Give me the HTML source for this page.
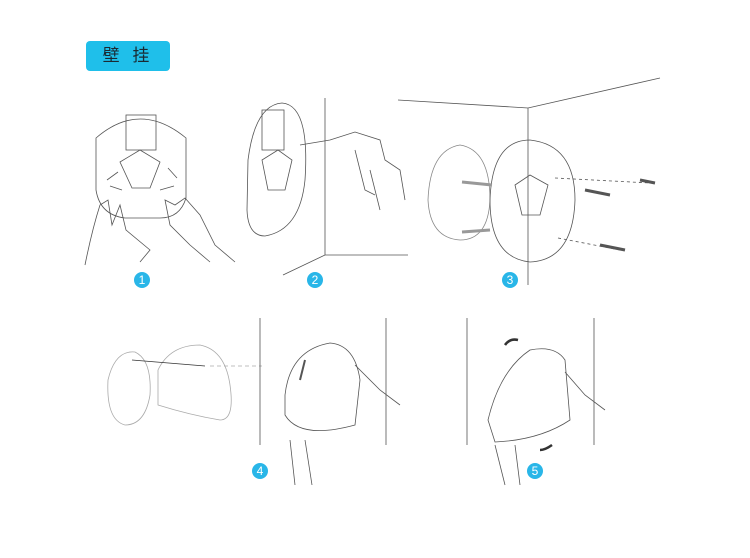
<!DOCTYPE html>
<html><head><meta charset="utf-8"><style>
html,body{margin:0;padding:0;background:#fff;width:750px;height:558px;overflow:hidden}
.h{position:absolute;left:86px;top:41px;width:84px;height:30px;background:#1fbfea;border-radius:4px;color:#1a2a33;font:17px "Liberation Sans","Noto Sans CJK SC",sans-serif;text-align:center;line-height:30px;letter-spacing:4px}
svg{position:absolute;left:0;top:0}
</style></head><body>
<div class="h">壁 挂</div>
<svg width="750" height="558" viewBox="0 0 750 558" fill="none" stroke="#555" stroke-width="0.8" font-family="Liberation Sans">
<!-- 1 -->
<path d="M96 138 Q140 100 186 138 L186 198 Q180 218 160 218 L125 218 Q100 215 96 190 Z"/>
<rect x="126" y="115" width="30" height="35"/>
<path d="M120 162 L140 150 L160 162 L150 188 L132 188 Z"/>
<path d="M107 180 L118 172 M110 186 L122 190 M177 178 L168 168 M174 186 L160 190"/>
<path d="M85 265 Q92 230 100 205 L108 200 L112 225 L120 205 L126 230 L150 250 L140 262 M210 262 L190 245 L170 225 L165 200 L175 205 L185 198 L200 215 L215 245 L235 262"/>
<!-- 2 -->
<path d="M248 160 Q255 105 282 103 Q310 105 305 180 Q300 230 265 236 Q248 236 247 210 Z"/>
<rect x="262" y="110" width="22" height="40"/>
<path d="M262 160 L278 150 L292 160 L285 190 L268 190 Z"/>
<path d="M325 98 L325 255 L283 275 M325 255 L408 255"/>
<path d="M300 145 L330 140 L355 132 L380 140 L385 160 L400 170 L405 200 M355 150 L365 190 L375 195 M370 170 L380 210"/>
<!-- 3 -->
<path d="M398 100 L528 108 L660 78 M528 108 L528 285"/>
<path d="M428 200 Q430 150 460 145 Q490 150 490 200 Q488 240 460 240 Q430 238 428 200 Z" stroke="#888"/>
<path d="M490 200 Q492 140 530 140 Q575 145 575 200 Q573 260 530 262 Q490 258 490 200 Z"/>
<path d="M515 185 L530 175 L548 185 L540 215 L522 215 Z"/>
<path d="M462 182 L492 185 M462 232 L490 230" stroke-width="3" stroke="#999"/>
<path d="M555 178 L650 183 M558 238 L620 250" stroke-dasharray="3 3"/>
<path d="M585 190 L610 195 M600 245 L625 250" stroke-width="3"/>
<path d="M640 180 L655 183" stroke-width="3"/>
<!-- 4 -->
<path d="M108 380 Q115 350 135 352 Q152 360 150 395 Q145 425 125 425 Q106 420 108 380 Z" stroke="#aaa"/>
<path d="M158 370 Q170 345 200 345 Q225 350 230 385 Q235 420 220 420 Q190 415 158 405 Z" stroke="#aaa"/>
<path d="M132 360 L205 366" stroke="#333"/>
<path d="M210 366 L262 366" stroke-dasharray="4 3" stroke="#aaa"/>
<path d="M260 318 L260 445 M386 318 L386 445"/>
<path d="M285 395 Q290 350 330 343 Q355 345 360 380 L355 425 Q300 440 285 415 Z"/>
<path d="M300 380 L305 360" stroke-width="2"/>
<path d="M355 365 L380 390 L400 405 M290 440 L295 485 M305 440 L312 485"/>
<!-- 5 -->
<path d="M467 318 L467 445 M594 318 L594 445"/>
<path d="M488 420 Q500 370 530 350 Q555 345 565 360 L570 420 Q540 440 495 442 Z"/>
<path d="M505 345 Q510 338 518 340 M540 450 Q545 450 552 445" stroke-width="2.5" stroke="#333"/>
<path d="M565 372 L585 395 L605 410 M495 445 L505 485 M515 445 L520 485"/>
<g stroke="none" fill="#29b6e8"><circle cx="142" cy="280" r="8"/><circle cx="315" cy="280" r="8"/><circle cx="510" cy="280" r="8"/><circle cx="260" cy="471" r="8"/><circle cx="535" cy="471" r="8"/></g>
<g stroke="none" fill="#fff" font-size="12" text-anchor="middle"><text x="142" y="284">1</text><text x="315" y="284">2</text><text x="510" y="284">3</text><text x="260" y="475">4</text><text x="535" y="475">5</text></g>
</svg>
</body></html>
